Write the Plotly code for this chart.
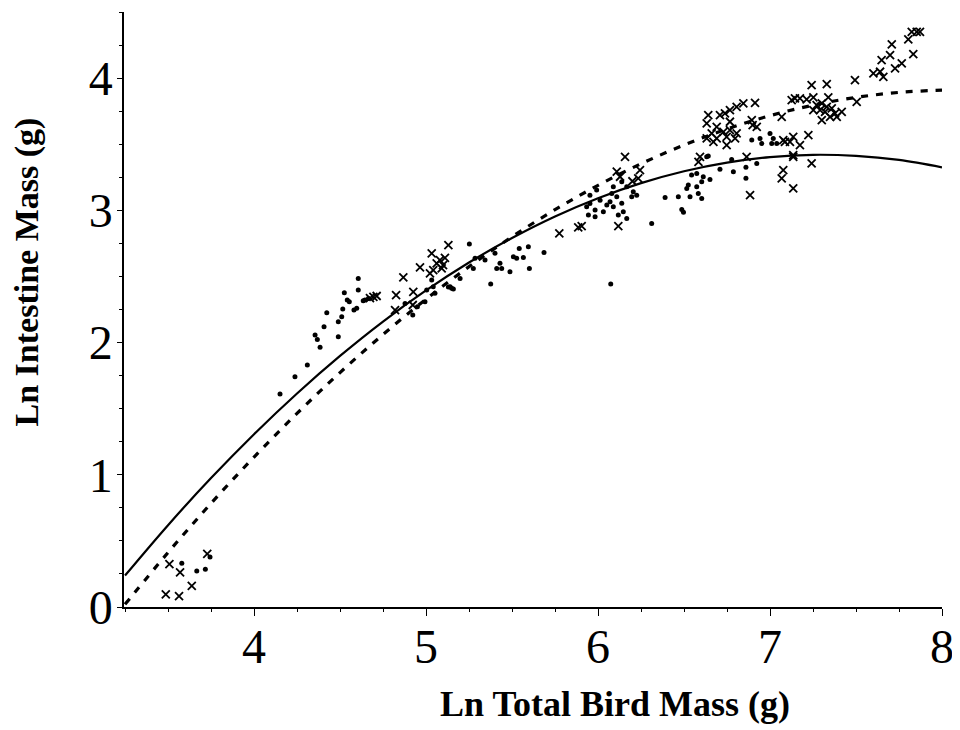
import plotly.graph_objects as go

# Scatter group 1 (dots)
dot_x = [3.580, 3.667, 3.717, 3.744,
         4.151, 4.238, 4.310, 4.355, 4.368, 4.384, 4.407, 4.423, 4.490, 4.490, 4.510, 4.516,
         4.525, 4.542, 4.554, 4.581, 4.597, 4.606, 4.606, 4.635, 4.665, 4.645,
         4.878, 4.923, 4.994, 5.004, 5.042, 5.033, 5.052, 5.140, 5.159, 5.149, 5.198, 5.252, 4.950,
         5.285, 5.275, 5.343, 5.401, 5.411, 5.440, 5.430, 5.488, 5.508, 5.527, 5.542, 5.566,
         5.595, 5.601, 5.686, 5.376, 5.130,
         6.074, 5.992, 6.012, 5.953, 5.934, 5.983, 6.031, 6.070, 6.089, 6.109, 6.138, 6.147,
         6.118, 6.089, 6.167, 6.205, 6.196, 6.225, 5.953, 6.167, 6.138, 6.080, 6.051, 5.983, 5.944,
         6.312, 6.390, 6.467, 6.535, 6.603, 6.487, 6.497, 6.516, 6.525, 6.574, 6.583, 6.612,
         6.651, 6.603, 6.632, 6.574, 6.544, 6.641, 6.709, 6.777, 6.787, 6.860, 6.860, 6.923,
         6.894, 6.942, 6.952, 7.000, 7.019, 7.010, 7.039]
dot_y = [0.330, 0.272, 0.285, 0.378,
         1.611, 1.741, 1.830, 2.057, 2.024, 1.964, 2.119, 2.225, 2.157, 2.044, 2.195, 2.253,
         2.377, 2.321, 2.308, 2.246, 2.259, 2.485, 2.397, 2.316, 2.334, 2.321,
         2.296, 2.208, 2.308, 2.397, 2.422, 2.473, 2.372, 2.422, 2.405, 2.410, 2.485, 2.745, 2.270,
         2.637, 2.561, 2.624, 2.675, 2.561, 2.561, 2.599, 2.535, 2.649, 2.637, 2.712, 2.644,
         2.724, 2.561, 2.682, 2.442, 2.420,
         2.442, 3.153, 3.077, 3.052, 3.027, 3.002, 2.989, 3.065, 3.027, 3.102, 3.053, 2.989,
         2.964, 3.178, 3.178, 3.140, 3.102, 3.115, 3.115, 2.939, 3.216, 3.128, 3.040, 2.951, 2.964,
         2.901, 3.098, 3.102, 3.102, 3.090, 3.007, 2.985, 3.166, 3.191, 3.279, 3.128, 3.254,
         3.234, 3.216, 3.405, 3.178, 3.267, 3.410, 3.310, 3.385, 3.292, 3.325, 3.242, 3.355,
         3.531, 3.544, 3.506, 3.582, 3.544, 3.506, 3.506]

# Scatter group 2 (crosses)
cross_x = [3.508, 3.570, 3.487, 3.564, 3.638, 3.728,
           4.674, 4.694, 4.713, 4.826, 4.868, 4.820, 4.926, 4.923, 4.965, 5.033, 5.081, 5.062,
           5.099, 5.130, 5.042, 5.091, 5.023, 5.110,
           5.775, 5.885, 5.905, 6.118, 6.157, 6.109, 6.128, 6.244, 6.234, 6.200,
           6.593, 6.584, 6.864, 6.884, 7.077, 7.068, 7.135, 7.135, 7.242, 7.077, 7.116, 7.135,
           6.641, 6.632, 6.709, 6.738, 6.767, 6.806, 6.845, 6.913, 6.767, 6.690, 6.661, 6.729,
           6.767, 6.806, 6.632, 6.690, 6.748, 6.797, 6.671, 6.748, 6.894, 6.899, 6.923,
           7.145, 7.824, 7.853, 7.872, 7.804, 7.708, 7.698, 7.649, 7.833, 7.766, 7.727, 7.601,
           7.640, 7.659, 7.494, 7.242, 7.330, 7.126, 7.174, 7.213, 7.252, 7.339, 7.271, 7.301,
           7.330, 7.291, 7.320, 7.359, 7.378, 7.417, 7.252, 7.301, 7.349, 7.504, 7.388, 7.068,
           7.087, 7.223, 7.174, 7.135]
cross_y = [0.325, 0.262, 0.096, 0.083, 0.159, 0.401,
           2.336, 2.346, 2.352, 2.359, 2.493, 2.246, 2.384, 2.284, 2.569, 2.674, 2.624, 2.599,
           2.586, 2.737, 2.548, 2.561, 2.523, 2.640,
           2.826, 2.871, 2.881, 2.881, 3.405, 3.292, 3.254, 3.304, 3.242, 3.220,
           3.405, 3.367, 3.405, 3.115, 3.304, 3.242, 3.166, 3.405, 3.355, 3.531, 3.518, 3.556,
           3.720, 3.657, 3.720, 3.733, 3.758, 3.783, 3.809, 3.813, 3.670, 3.632, 3.582, 3.594,
           3.607, 3.582, 3.544, 3.544, 3.556, 3.544, 3.518, 3.493, 3.682, 3.645, 3.632,
           3.846, 4.350, 4.350, 4.350, 4.293, 4.255, 4.174, 4.136, 4.181, 4.111, 4.073, 4.036,
           4.048, 4.010, 3.985, 3.947, 3.955, 3.834, 3.846, 3.839, 3.854, 3.854, 3.796, 3.809,
           3.783, 3.758, 3.745, 3.771, 3.733, 3.745, 3.758, 3.682, 3.707, 3.821, 3.707, 3.707,
           3.518, 3.569, 3.493, 3.418]

# Fitted curves at 0.25 steps
curve_x = [3.25, 3.5, 3.75, 4.0, 4.25, 4.5, 4.75, 5.0, 5.25, 5.5, 5.75, 6.0, 6.25, 6.5,
           6.75, 7.0, 7.25, 7.5, 7.75, 8.0]
solid_y = [0.238, 0.619, 0.975, 1.307, 1.615, 1.899, 2.159, 2.394, 2.605, 2.791, 2.954,
           3.092, 3.206, 3.296, 3.361, 3.403, 3.420, 3.412, 3.381, 3.325]
dashed_y = [0.020, 0.412, 0.784, 1.134, 1.464, 1.773, 2.061, 2.328, 2.574, 2.800, 3.005,
            3.189, 3.352, 3.494, 3.615, 3.716, 3.795, 3.854, 3.892, 3.909]

x_title = "Ln Total Bird Mass (g)"
y_title = "Ln Intestine Mass (g)"

fig = go.Figure()
fig.add_trace(go.Scatter(x=dot_x, y=dot_y, mode="markers",
                         marker=dict(symbol="circle", size=5, color="black"),
                         showlegend=False, cliponaxis=False))
fig.add_trace(go.Scatter(x=cross_x, y=cross_y, mode="markers",
                         marker=dict(symbol="x-thin", size=8, color="black",
                                     line=dict(width=1.8, color="black")),
                         showlegend=False, cliponaxis=False))
fig.add_trace(go.Scatter(x=curve_x, y=solid_y, mode="lines", line_shape="spline",
                         line=dict(color="black", width=2.2), showlegend=False))
fig.add_trace(go.Scatter(x=curve_x, y=dashed_y, mode="lines", line_shape="spline",
                         line=dict(color="black", width=3.2, dash="7px,8px"), showlegend=False))

font_serif = "Liberation Serif, Times New Roman, serif"
fig.update_layout(
    width=952, height=722,
    margin=dict(l=116, r=18, t=4, b=123),
    plot_bgcolor="white", paper_bgcolor="white",
    font=dict(family=font_serif, color="black"),
    xaxis=dict(range=[3.244, 8.0], showline=True, linecolor="black", linewidth=1.5,
               showgrid=False, zeroline=False, ticks="outside", ticklen=7, tickwidth=1.2,
               tickcolor="black", dtick=1, tick0=0,
               tickfont=dict(size=48, family=font_serif, color="black"),
               ticklabelstandoff=-10,
               minor=dict(dtick=0.25, ticks="outside", ticklen=3, tickcolor="black",
                          tickwidth=1, showgrid=False)),
    yaxis=dict(range=[0, 4.5], showline=True, linecolor="black", linewidth=1.5,
               showgrid=False, zeroline=False, ticks="outside", ticklen=5, tickwidth=1.2,
               tickcolor="black", dtick=1, tick0=0,
               tickfont=dict(size=48, family=font_serif, color="black"),
               ticklabelstandoff=-5,
               minor=dict(dtick=0.25, ticks="outside", ticklen=3, tickcolor="black",
                          tickwidth=1, showgrid=False)),
    annotations=[
        dict(text="<b>" + x_title + "</b>", xref="paper", yref="paper", x=0.600, y=-0.163,
             xanchor="center", yanchor="middle", showarrow=False,
             font=dict(size=36, family=font_serif, color="black")),
        dict(text="<b>" + y_title + "</b>", xref="paper", yref="paper", x=-0.118, y=0.563,
             xanchor="center", yanchor="middle", showarrow=False, textangle=-90,
             font=dict(size=34, family=font_serif, color="black")),
    ],
)

fig.write_html("out.html")
